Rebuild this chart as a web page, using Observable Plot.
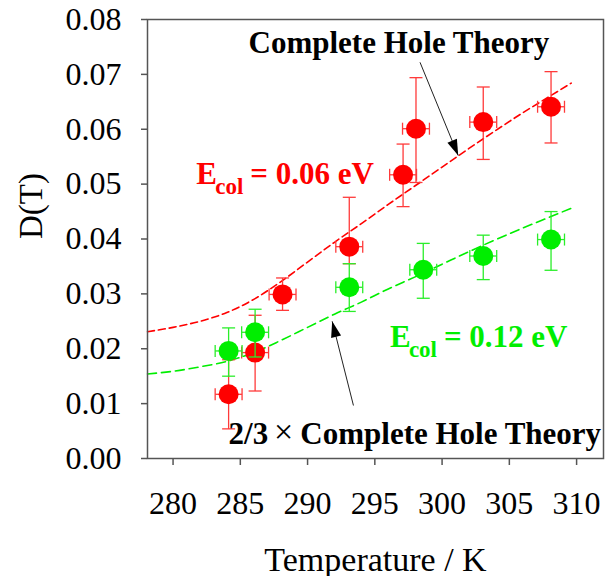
<!DOCTYPE html>
<html>
<head>
<meta charset="utf-8">
<script src="https://cdn.jsdelivr.net/npm/d3@7"></script>
<script src="https://cdn.jsdelivr.net/npm/@observablehq/plot@0.6"></script>
<style>
  html, body { margin: 0; padding: 0; background: #fff; }
</style>
</head>
<body>
<div id="chart"></div>
<script>
// ---- Data ----
const redT   = [284.13, 286.1, 288.14, 293.1, 297.1, 298.06, 303.06, 308.1];
const redD   = [0.0117, 0.0193, 0.0299, 0.0386, 0.0517, 0.0601, 0.0613, 0.0641];
const redHi  = [0.0180, 0.0261, 0.0329, 0.0476, 0.0573, 0.0694, 0.0677, 0.0705];
const redLo  = [0.0054, 0.0123, 0.0270, 0.0355, 0.0459, 0.0503, 0.0545, 0.0575];
const redXErr = [1, 1, 1, 1, 1, 1, 1, 1];

const greenT  = [284.13, 286.1, 293.1, 298.6, 303.06, 308.1];
const greenD  = [0.0196, 0.0230, 0.0312, 0.0344, 0.0369, 0.0399];
const greenHi = [0.0238, 0.0272, 0.0355, 0.0392, 0.0407, 0.0450];
const greenLo = [0.0150, 0.0185, 0.0268, 0.0292, 0.0326, 0.0343];
const greenXErr = [1, 1, 1, 1, 1, 1];

// Complete Hole Theory curve (red dashed)
const theoryT = [278.1, 280, 282, 284, 286, 288, 290, 292, 294, 296, 298, 300, 302, 304, 306, 308, 309.6];
const theoryD = [0.0231, 0.0239, 0.0250, 0.0266, 0.0290, 0.0322, 0.0358, 0.0394, 0.0428, 0.0463, 0.0497, 0.0531, 0.0565, 0.0598, 0.0630, 0.0660, 0.0684];
// 2/3 x Complete Hole Theory curve (green dashed)
const theory23T = [278.1, 280, 282, 284, 286, 288, 290, 292, 294, 296, 298, 300, 302, 304, 306, 308, 309.6];
const theory23D = [0.0154, 0.0159, 0.0167, 0.0177, 0.0193, 0.0215, 0.0239, 0.0263, 0.0285, 0.0309, 0.0331, 0.0354, 0.0377, 0.0399, 0.0420, 0.0440, 0.0456];

const xTicks = [280, 285, 290, 295, 300, 305, 310];
const yTicks = [0, 0.01, 0.02, 0.03, 0.04, 0.05, 0.06, 0.07, 0.08];

const xLabel = "Temperature / K";
const yLabel = "D(T)";
const labelTop = "Complete Hole Theory";
const labelBottomFrac = "2/3";
const labelBottomTimes = "×";
const labelBottomRest = "Complete Hole Theory";
const ecolRed = ["E", "col", "= 0.06 eV"];
const ecolGreen = ["E", "col", "= 0.12 eV"];

// annotation arrows: tail (x1,y1) -> tip (x2,y2), in data units
const arrowX1 = [298.36, 293.41];
const arrowY1 = [0.0722, 0.00966];
const arrowX2 = [301.20, 291.83];
const arrowY2 = [0.0552, 0.0250];

// ---- Layout ----
const W = 612, H = 576, ML = 147, MR = 9, MT = 19, MB = 118;
const xDomain = [278.1, 312], yDomain = [0, 0.08];

// ---- Build tables ----
const zipPts = (T, D, Hi, Lo, XE) => T.map((t, i) => ({T: t, D: D[i], hi: Hi[i], lo: Lo[i], xe: XE[i]}));
const red = zipPts(redT, redD, redHi, redLo, redXErr);
const green = zipPts(greenT, greenD, greenHi, greenLo, greenXErr);
const theory = theoryT.map((t, i) => ({T: t, D: theoryD[i]}));
const theory23 = theory23T.map((t, i) => ({T: t, D: theory23D[i]}));

// screen-space direction of each arrow, for the rotated head symbol
const kx = (W - ML - MR) / (xDomain[1] - xDomain[0]);
const ky = (H - MT - MB) / (yDomain[1] - yDomain[0]);
const arrows = arrowX1.map((x1, i) => {
  const dx = (arrowX2[i] - x1) * kx, dy = -(arrowY2[i] - arrowY1[i]) * ky;
  return {x1, y1: arrowY1[i], x2: arrowX2[i], y2: arrowY2[i], angle: Math.atan2(dy, dx) * 180 / Math.PI};
});

const RED = "#ff0000";
const RED_BAR = "#ff3a3a";
const GREEN = "#00ee00";
const GREEN_BAR = "#2aee2a";
const SERIF = '"Liberation Serif", "Times New Roman", Times, serif';

// custom symbols
const capH = {draw(ctx, size) { const r = Math.sqrt(size / Math.PI); ctx.moveTo(-r, 0); ctx.lineTo(r, 0); }};
const capV = {draw(ctx, size) { const r = Math.sqrt(size / Math.PI); ctx.moveTo(0, -r); ctx.lineTo(0, r); }};
const headSym = {draw(ctx, size) {
  const L = Math.sqrt(size / Math.PI); // head length
  ctx.moveTo(0, 0); ctx.lineTo(-L, -L * 0.32); ctx.lineTo(-L, L * 0.32); ctx.closePath();
}};

function seriesMarks(data, dotColor, barColor) {
  return [
    Plot.link(data, {x1: "T", x2: "T", y1: "lo", y2: "hi", stroke: barColor, strokeWidth: 1.3}),
    Plot.link(data, {x1: d => d.T - d.xe, x2: d => d.T + d.xe, y1: "D", y2: "D", stroke: barColor, strokeWidth: 1.3}),
    Plot.dot(data, {x: "T", y: "hi", symbol: capH, r: 6.5, fill: "none", stroke: barColor, strokeWidth: 1.3}),
    Plot.dot(data, {x: "T", y: "lo", symbol: capH, r: 6.5, fill: "none", stroke: barColor, strokeWidth: 1.3}),
    Plot.dot(data, {x: d => d.T - d.xe, y: "D", symbol: capV, r: 6, fill: "none", stroke: barColor, strokeWidth: 1.3}),
    Plot.dot(data, {x: d => d.T + d.xe, y: "D", symbol: capV, r: 6, fill: "none", stroke: barColor, strokeWidth: 1.3}),
    Plot.dot(data, {x: "T", y: "D", r: 10, fill: dotColor, stroke: "none"})
  ];
}

function annot(txt, x, y, o) {
  return Plot.text([txt], {x: () => x, y: () => y, text: d => d, textAnchor: "start", lineAnchor: "bottom",
    fontFamily: SERIF, ...o});
}

const svg = Plot.plot({
  width: W,
  height: H,
  marginLeft: ML,
  marginRight: MR,
  marginTop: MT,
  marginBottom: MB,
  style: {fontFamily: SERIF, background: "#fff", color: "#000"},
  x: {domain: xDomain},
  y: {domain: yDomain},
  marks: [
    // tick marks (gray), no text
    Plot.axisX(xTicks, {tickSize: 7, stroke: "#555", strokeWidth: 1.5, tickFormat: () => "", label: null}),
    Plot.axisY(yTicks, {tickSize: 6, stroke: "#555", strokeWidth: 1.5, tickFormat: () => "", label: null}),
    // tick labels (black serif) placed through the scales
    Plot.text(xTicks, {x: d => d, frameAnchor: "bottom", dy: 33, lineAnchor: "top", text: d => String(d), fontSize: 32, fontFamily: SERIF, fill: "#000"}),
    Plot.text(yTicks, {y: d => d, frameAnchor: "left", dx: -26, textAnchor: "end", text: d3.format(".2f"), fontSize: 32, fontFamily: SERIF, fill: "#000"}),
    Plot.text([yLabel], {frameAnchor: "left", dx: -116, rotate: -90, text: d => d, fontSize: 33, fontFamily: SERIF, fill: "#000"}),
    Plot.text([xLabel], {frameAnchor: "bottom", dy: 112, lineAnchor: "bottom", text: d => d, fontSize: 34, fontFamily: SERIF, fill: "#000"}),
    Plot.line(theory, {x: "T", y: "D", stroke: RED, strokeWidth: 1.6, strokeDasharray: "7,4", curve: "monotone-x"}),
    Plot.line(theory23, {x: "T", y: "D", stroke: GREEN, strokeWidth: 1.6, strokeDasharray: "9,5", curve: "monotone-x"}),
    ...seriesMarks(red, RED, RED_BAR),
    ...seriesMarks(green, GREEN, GREEN_BAR),
    Plot.link(arrows, {x1: "x1", y1: "y1", x2: "x2", y2: "y2", stroke: "#222", strokeWidth: 1}),
    Plot.dot(arrows, {x: "x2", y: "y2", symbol: headSym, r: 16, rotate: "angle", fill: "#000", stroke: "none"}),
    // annotations
    annot(labelTop, 285.61, 0.0739, {fontSize: 31, fontWeight: "bold", fill: "#000"}),
    annot(ecolRed[0], 281.73, 0.05008, {fontSize: 31, fontWeight: "bold", fill: RED}),
    annot(ecolRed[1], 281.73, 0.05008, {fontSize: 23, fontWeight: "bold", fill: RED, dx: 19, dy: 10}),
    annot(ecolRed[2], 281.73, 0.05008, {fontSize: 31, fontWeight: "bold", fill: RED, dx: 54}),
    annot(ecolGreen[0], 296.12, 0.02041, {fontSize: 31, fontWeight: "bold", fill: GREEN}),
    annot(ecolGreen[1], 296.12, 0.02041, {fontSize: 23, fontWeight: "bold", fill: GREEN, dx: 19, dy: 10}),
    annot(ecolGreen[2], 296.12, 0.02041, {fontSize: 31, fontWeight: "bold", fill: GREEN, dx: 54}),
    annot(labelBottomFrac, 284.13, 0.00268, {fontSize: 31, fontWeight: "bold", fill: "#000"}),
    annot(labelBottomTimes, 284.13, 0.00268, {fontSize: 34, fontWeight: "normal", fill: "#000", dx: 55, dy: -1, textAnchor: "middle"}),
    annot(labelBottomRest, 284.13, 0.00268, {fontSize: 31, fontWeight: "bold", fill: "#000", dx: 71.7}),
    Plot.frame({stroke: "#555", strokeWidth: 1.5})
  ]
});

document.getElementById("chart").appendChild(svg);
</script>
</body>
</html>
